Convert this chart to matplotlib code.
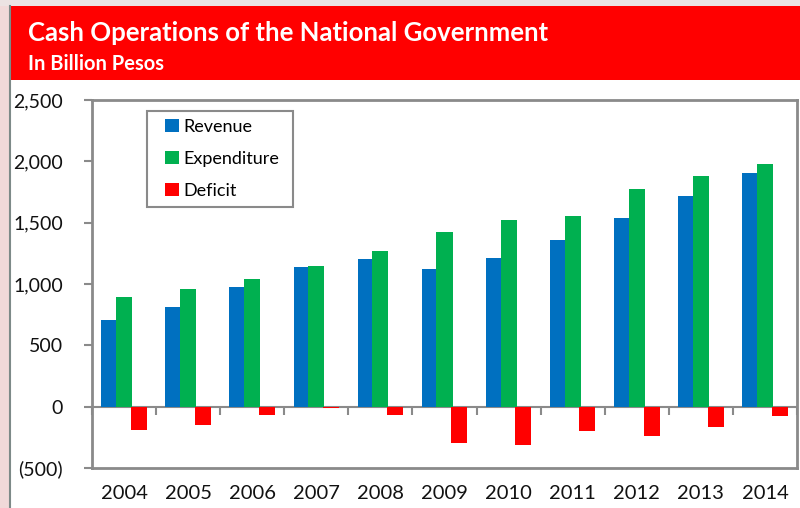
import numpy as np
import matplotlib
matplotlib.use("Agg")
import matplotlib.pyplot as plt
from matplotlib.patches import Rectangle
from matplotlib.lines import Line2D
from matplotlib.ticker import FuncFormatter

# Cash operations, billion pesos
years = ["2004", "2005", "2006", "2007", "2008", "2009", "2010", "2011", "2012", "2013", "2014"]
revenue = [706.7, 816.2, 979.6, 1136.6, 1202.9, 1123.2, 1207.9, 1359.9, 1534.9, 1716.1, 1908.5]
expenditure = [893.9, 962.9, 1044.4, 1149.0, 1271.0, 1421.7, 1522.4, 1557.7, 1777.8, 1880.2, 1981.6]
deficit = [-187.1, -146.8, -64.8, -12.4, -68.1, -298.5, -314.5, -197.8, -242.8, -164.1, -73.1]

plt.rcParams['font.family'] = ['Lato', 'DejaVu Sans']

W, H = 800, 508
fig = plt.figure(figsize=(W / 100, H / 100), dpi=100)
fig.patch.set_facecolor('white')

# page decoration: pink margin, header band
fig.add_artist(Rectangle((0, 0), 9 / W, 1, transform=fig.transFigure,
                         facecolor='#f1d9d9', edgecolor='none', zorder=0))
fig.add_artist(Rectangle((0, (H - 6) / H), 1, 6 / H, transform=fig.transFigure,
                         facecolor='#ece3e3', edgecolor='none', zorder=0))
fig.add_artist(Rectangle((10 / W, (H - 80) / H), 1, 74 / H, transform=fig.transFigure,
                         facecolor='#ff0000', edgecolor='none', zorder=1))
fig.add_artist(Line2D([10 / W, 10 / W], [0, (H - 6) / H], transform=fig.transFigure,
                      color='#7d8a88', linewidth=1.5, zorder=2))

fig.text(28 / W, (H - 33) / H, "Cash Operations of the National Government",
         color='white', fontsize=18.5, fontweight='bold', va='center', ha='left')
fig.text(28 / W, (H - 64) / H, "In Billion Pesos",
         color='white', fontsize=14.5, fontweight='bold', va='center', ha='left')

ax = fig.add_axes([92 / W, 40 / H, 705 / W, 368 / H])

x = np.arange(len(years))
w = 0.25
ax.bar(x - 0.23, revenue, w, color='#0070c0', label='Revenue', zorder=3)
ax.bar(x, expenditure, w, color='#00b050', label='Expenditure', zorder=3)
ax.bar(x + 0.23, deficit, w, color='#ff0000', label='Deficit', zorder=3)

ax.set_xlim(-0.5, len(years) - 0.5)
ax.set_ylim(-500, 2500)
ax.set_yticks(np.arange(-500, 2501, 500))
ax.yaxis.set_major_formatter(FuncFormatter(
    lambda v, p: f"({abs(v):,.0f})" if v < 0 else f"{v:,.0f}"))

frame = '#8a8a8a'
for s in ['left', 'right', 'top']:
    ax.spines[s].set_color(frame)
    ax.spines[s].set_linewidth(2)

# zero line carries the category separator ticks
ax.spines['bottom'].set_position(('data', 0))
ax.spines['bottom'].set_color(frame)
ax.spines['bottom'].set_linewidth(1.5)
ax.set_xticks(np.arange(len(years) + 1) - 0.5)
ax.tick_params(axis='x', length=6, width=1.5, color=frame, labelbottom=False)
ax.tick_params(axis='y', length=6, width=1.5, color=frame, pad=15,
               labelsize=14, labelcolor='#111111')

# bottom frame holds the year labels
sec = ax.secondary_xaxis(0)
sec.set_xticks(x)
sec.set_xticklabels(years)
sec.spines['bottom'].set_color(frame)
sec.spines['bottom'].set_linewidth(2)
sec.tick_params(length=0, pad=12, labelsize=14.5, labelcolor='#111111')

# legend box
ax.add_patch(Rectangle((147 / W, (H - 207) / H), 146 / W, 96 / H,
                       transform=fig.transFigure, facecolor='white',
                       edgecolor=frame, linewidth=1.5, zorder=4))
leg = ax.legend(loc='upper left', bbox_to_anchor=(165 / W, (H - 119) / H),
                bbox_transform=fig.transFigure, frameon=False, fontsize=13,
                handlelength=0.75, handleheight=0.75, handletextpad=0.25,
                labelspacing=0.88, borderpad=0, borderaxespad=0)
leg.set_zorder(5)

fig.savefig("out.png", dpi=100)
